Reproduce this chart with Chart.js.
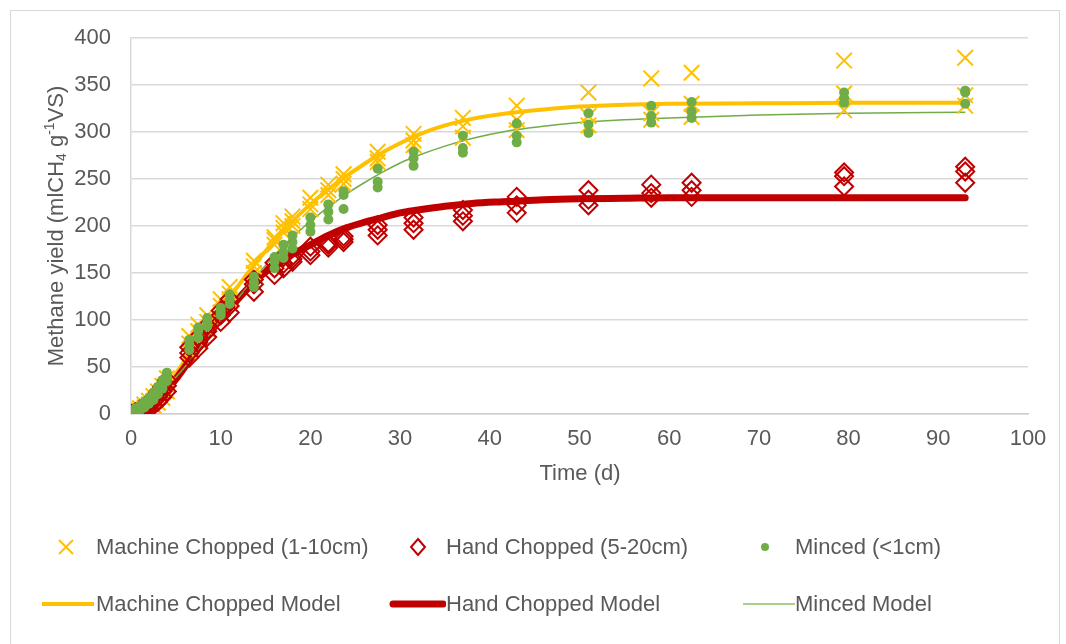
<!DOCTYPE html>
<html>
<head>
<meta charset="utf-8">
<script src="https://cdn.jsdelivr.net/npm/chart.js@4"></script>
<style>
  html, body { margin:0; padding:0; background:#fff; overflow:hidden; }
  body { width:1066px; height:644px; position:relative; font-family:"Liberation Sans", Arial, sans-serif; color:#595959; }
  #frame { position:absolute; left:10px; top:10px; width:1050px; height:660px; border:1px solid #D9D9D9; box-sizing:border-box; }
  #c { position:absolute; left:0; top:0; }
  .ttl { position:absolute; font-size:22px; white-space:nowrap; color:#595959; }
  #ytitle { left:55px; top:226px; transform:translate(-50%,-50%) rotate(-90deg); }
  #ytitle sub, #ytitle sup { font-size:14px; }
  #ytitle sub { vertical-align:-3px; }
  #ytitle sup { vertical-align:9px; }
  #xtitle { left:580px; top:473px; transform:translate(-50%,-50%); }
  .lg { position:absolute; font-size:22px; white-space:nowrap; color:#595959; transform:translateY(-50%); }
  .mk { position:absolute; }
</style>
</head>
<body>
<div id="frame"></div>
<canvas id="c" width="1066" height="644"></canvas>
<div class="ttl" id="ytitle">Methane yield (mlCH<sub>4</sub> g<sup>-1</sup>VS)</div>
<div class="ttl" id="xtitle">Time (d)</div>

<svg class="mk" style="left:56px;top:537px" width="20" height="20"><path d="M3 3 L17 17 M17 3 L3 17" stroke="#FFC000" stroke-width="2"/></svg>
<div class="lg" style="left:96px;top:547px">Machine Chopped (1-10cm)</div>
<svg class="mk" style="left:408px;top:537px" width="20" height="20"><path d="M10 2 L17 10 L10 18 L3 10 Z" fill="none" stroke="#C00000" stroke-width="2"/></svg>
<div class="lg" style="left:446px;top:547px">Hand Chopped (5-20cm)</div>
<svg class="mk" style="left:755px;top:537px" width="20" height="20"><circle cx="10" cy="10" r="4" fill="#70AD47"/></svg>
<div class="lg" style="left:795px;top:547px">Minced (&lt;1cm)</div>

<svg class="mk" style="left:40px;top:594px" width="56" height="20"><line x1="2" y1="10" x2="54" y2="10" stroke="#FFC000" stroke-width="4"/></svg>
<div class="lg" style="left:96px;top:604px">Machine Chopped Model</div>
<svg class="mk" style="left:388px;top:594px" width="58" height="20"><line x1="5" y1="10" x2="55" y2="10" stroke="#C00000" stroke-width="7" stroke-linecap="round"/></svg>
<div class="lg" style="left:446px;top:604px">Hand Chopped Model</div>
<svg class="mk" style="left:741px;top:594px" width="56" height="20"><line x1="2" y1="10" x2="54" y2="10" stroke="#A9D18E" stroke-width="2"/></svg>
<div class="lg" style="left:795px;top:604px">Minced Model</div>

<script>
// Sampling days (measurements, triplicates)
const sampleDays = [0, 0.5, 1, 1.5, 2, 2.5, 3, 3.5, 4, 6.5, 7.5, 8.5, 10, 11, 13.7, 16, 17, 18, 20, 22, 23.7, 27.5, 31.5, 37, 43, 51, 58, 62.5, 79.5, 93];

// Measured methane yield (mlCH4/gVS), three replicates per day
const machineChopped = [
  [0,0,1],[1,3,4],[2,4,6],[4,7,10],[6,10,14],[9,14,19],[12,18,24],[17,24,30],[24,31,38],
  [66,75,83],[78,88,95],[90,98,105],[108,115,122],[122,128,135],[150,157,163],
  [180,185,188],[193,198,203],[200,205,210],[218,223,230],[233,238,244],[245,250,255],
  [268,272,279],[286,291,298],[294,306,315],[302,313,328],[307,317,342],[313,320,357],
  [316,330,363],[323,341,376],[328,339,379]
];
const handChopped = [
  [0,0,0],[0,1,2],[1,3,5],[3,5,8],[6,9,12],[9,13,17],[13,18,23],[18,24,29],[24,30,36],
  [60,65,71],[70,76,82],[82,88,94],[98,105,110],[108,115,122],[130,138,143],
  [148,155,161],[155,160,167],[162,165,168],[169,173,178],[177,180,182],[183,186,189],
  [190,196,201],[196,203,209],[205,211,217],[214,222,231],[222,228,238],[230,235,244],
  [231,238,246],[242,253,257],[246,258,263]
];
const minced = [
  [0,1,3],[2,4,6],[4,6,9],[7,10,13],[11,14,17],[15,19,23],[21,25,29],[27,32,36],[35,40,44],
  [68,74,79],[81,88,92],[93,98,102],[105,109,113],[117,121,127],[135,140,146],
  [155,162,167],[166,172,180],[176,183,190],[194,201,209],[207,215,223],[218,233,237],
  [241,247,261],[264,272,279],[278,283,296],[289,296,309],[299,308,320],[310,317,328],
  [315,322,332],[331,336,342],[330,342,344]
];

// Model curves
const modelDays = [0,1,2,3,4,5,6,7,8,9,10,12,14,16,18,20,22,24,26,28,30,32,35,38,42,46,50,55,60,70,80,93];
const machineModel = [0,3,9,18,30,43,57,71,85,98,112,137,162,184,205,223,239,253,266,278,288,297,307,314,320,324,327,329,330,330.5,331,331];
const handModel    = [0,2,7,15,25,37,50,63,76,89,101,123,143,158,170,180,190,198,204,209,214,217,221,224,226,228,229,229.5,230,230,230,230];
const mincedModel  = [9,11,15,21,29,39,50,62,75,88,100,124,147,169,188,205,220,234,246,257,267,275,285,293,301,306,310,313,315,318,320,321];

const xTicks = { min: 0, max: 100, step: 10 };
const yTicks = { min: 0, max: 400, step: 50 };

function reps(days, triples) {
  const out = [];
  days.forEach((d, i) => triples[i].forEach(v => out.push({ x: d, y: v })));
  return out;
}
function curve(days, vals) { return days.map((d, i) => ({ x: d, y: vals[i] })); }

const FONT = { family: '"Liberation Sans", Arial, sans-serif', size: 22 };

new Chart(document.getElementById('c'), {
  type: 'scatter',
  data: {
    datasets: [
      { label: 'Machine Chopped Model', data: curve(modelDays, machineModel), showLine: true, pointRadius: 0,
        borderColor: '#FFC000', borderWidth: 4, cubicInterpolationMode: 'monotone', order: 6 },
      { label: 'Hand Chopped Model', data: curve(modelDays, handModel), showLine: true, pointRadius: 0,
        borderColor: '#C00000', borderWidth: 7, borderCapStyle: 'round', cubicInterpolationMode: 'monotone', order: 5 },
      { label: 'Minced Model', data: curve(modelDays, mincedModel), showLine: true, pointRadius: 0,
        borderColor: '#70AD47', borderWidth: 1.5, cubicInterpolationMode: 'monotone', order: 4 },
      { label: 'Machine Chopped (1-10cm)', data: reps(sampleDays, machineChopped), pointStyle: 'crossRot',
        pointRadius: 11, borderColor: '#FFC000', backgroundColor: '#FFC000', pointBorderWidth: 2, order: 3 },
      { label: 'Hand Chopped (5-20cm)', data: reps(sampleDays, handChopped), pointStyle: 'rectRot',
        pointRadius: 9, borderColor: '#C00000', backgroundColor: 'rgba(0,0,0,0)', pointBorderWidth: 2, order: 2 },
      { label: 'Minced (<1cm)', data: reps(sampleDays, minced), pointStyle: 'circle',
        pointRadius: 5, borderColor: '#70AD47', backgroundColor: '#70AD47', pointBorderWidth: 0, order: 1 }
    ]
  },
  options: {
    responsive: false,
    animation: false,
    events: [],
    layout: { padding: { top: 38, right: 38, left: 0, bottom: 0 } },
    plugins: { legend: { display: false }, tooltip: { enabled: false } },
    scales: {
      x: {
        type: 'linear', min: xTicks.min, max: xTicks.max,
        ticks: { stepSize: xTicks.step, color: '#595959', font: FONT, padding: 12, maxRotation: 0 },
        grid: { display: false, drawTicks: false },
        border: { display: true, color: '#CFCFCF', width: 1.5 },
        afterFit: s => { s.height = 230; }
      },
      y: {
        min: yTicks.min, max: yTicks.max,
        ticks: { stepSize: yTicks.step, color: '#595959', font: FONT, padding: 20 },
        grid: { color: '#D9D9D9', lineWidth: 1.5, drawTicks: false },
        border: { display: true, color: '#D9D9D9', width: 1.5 },
        afterFit: s => { s.width = 131; }
      }
    }
  }
});
</script>
</body>
</html>
